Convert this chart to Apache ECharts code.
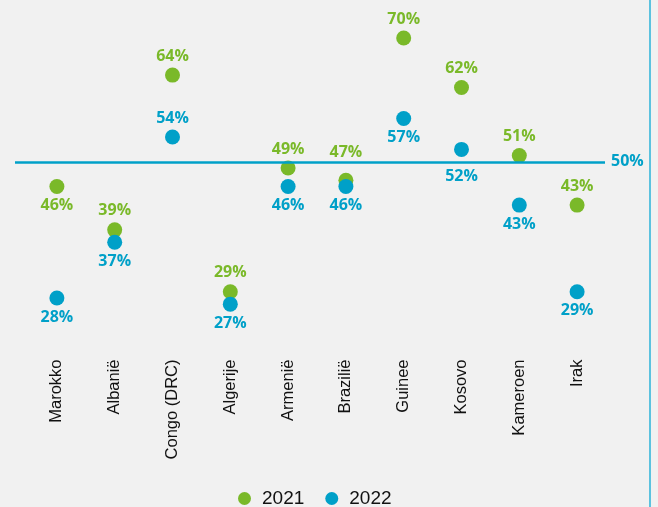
<!DOCTYPE html>
<html>
<head>
<meta charset="utf-8">
<script src="https://cdn.jsdelivr.net/npm/echarts@6/dist/echarts.min.js"></script>
<style>
html,body{margin:0;padding:0;background:#f1f1f1;}
#c{width:658px;height:507px;}
</style>
</head>
<body>
<div id="c"></div>
<script>
const categories = ['Marokko','Albanië','Congo (DRC)','Algerije','Armenië','Brazilië','Guinee','Kosovo','Kameroen','Irak'];
const values2021 = [46, 39, 64, 29, 49, 47, 70, 62, 51, 43];
const values2022 = [28, 37, 54, 27, 46, 46, 57, 52, 43, 29];
const labelPos2021 = ['bottom','top','top','top','top','top','top','top','top','top'];
const labelPos2022 = ['bottom','bottom','top','bottom','bottom','bottom','bottom','bottom','bottom','bottom'];
const labelDist2021 = [3.5,3.5,3.5,3.5,3.5,12.5,3.5,3.5,3.5,3.5];
const labelDist2022 = [3.5,3.5,3.5,3.5,3.5,3.5,3.5,11.5,3.5,3.5];
const referenceValue = 50;

const green = '#7ab929';
const blue = '#00a0c8';
const yMin = 20, yMax = 75;

function mkData(vals, pos, dist){
  return vals.map((v,i)=>({value:v, label:{position:pos[i], distance:dist[i]}}));
}

const chart = echarts.init(document.getElementById('c'));
chart.setOption({
  backgroundColor:'#f1f1f1',
  animation:false,
  grid:[
    {left:28, right:52, top:7, bottom:159.5},
    {left:15, right:53, top:7, bottom:159.5}
  ],
  xAxis:[
    {type:'category', gridIndex:0, data:categories, boundaryGap:true,
     axisLine:{show:false}, axisTick:{show:false}, splitLine:{show:false},
     axisLabel:{rotate:90, margin:12, color:'#111', fontSize:16.5, fontFamily:'Liberation Sans, Arial, sans-serif', interval:0}},
    {type:'value', gridIndex:1, min:0, max:1, show:false}
  ],
  yAxis:[
    {type:'value', gridIndex:0, min:yMin, max:yMax, show:false},
    {type:'value', gridIndex:1, min:yMin, max:yMax, show:false}
  ],
  legend:{
    top:484, left:233, icon:'circle', itemWidth:25, itemHeight:13, itemGap:21,
    textStyle:{fontSize:19, color:'#111', fontFamily:'Liberation Sans, Arial, sans-serif', padding:[0,0,0,0]},
    data:['2021','2022']
  },
  series:[
    {name:'ref', type:'line', xAxisIndex:1, yAxisIndex:1, data:[], silent:true,
     markLine:{symbol:'none', silent:true,
       lineStyle:{color:blue, width:2.5, type:'solid'},
       label:{show:true, position:'end', formatter:referenceValue+'%', color:blue, fontWeight:'bold', fontSize:16, fontFamily:'Open Sans, sans-serif', distance:6},
       data:[{yAxis:referenceValue}]}},
    {name:'2021', type:'scatter', xAxisIndex:0, yAxisIndex:0, symbolSize:15, itemStyle:{color:green, opacity:1},
     label:{show:true, formatter:'{c}%', color:green, fontWeight:'bold', fontSize:16, fontFamily:'Open Sans, sans-serif'},
     data:mkData(values2021, labelPos2021, labelDist2021)},
    {name:'2022', type:'scatter', xAxisIndex:0, yAxisIndex:0, symbolSize:15, itemStyle:{color:blue, opacity:1},
     label:{show:true, formatter:'{c}%', color:blue, fontWeight:'bold', fontSize:16, fontFamily:'Open Sans, sans-serif'},
     data:mkData(values2022, labelPos2022, labelDist2022)}
  ],
  graphic:[
    {type:'line', shape:{x1:650, y1:0, x2:650, y2:507}, style:{stroke:'#5cc2df', lineWidth:2}}
  ]
});
</script>
</body>
</html>
